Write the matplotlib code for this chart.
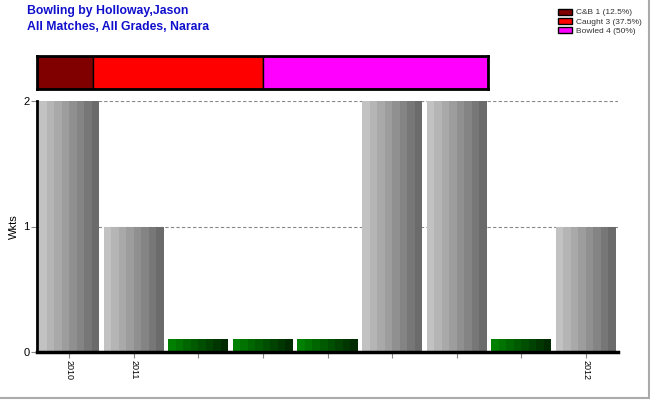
import matplotlib
matplotlib.use("Agg")
import matplotlib.pyplot as plt
import numpy as np
from matplotlib.lines import Line2D

plt.rcParams['font.family'] = ['Liberation Sans', 'DejaVu Sans']

# data
wkts = [2, 1, 0, 0, 0, 2, 2, 0, 1]
xlabels = ["2010", "2011", "", "", "", "", "", "", "2012"]
zero_height = 0.1  # placeholder height for matches with no wickets
dismissals = ["C&B", "Caught", "Bowled"]
dis_counts = [1, 3, 4]
dis_colors = ["#800000", "#ff0000", "#ff00ff"]

fig = plt.figure(figsize=(6.5, 4), dpi=100)

# main bar chart
ax = fig.add_axes([37/650, 48/400, 581/650, 251/400])
x = np.arange(len(wkts))
w = 0.93
nstripes = 8
grays = np.linspace(0.76, 0.42, nstripes)
greens = np.linspace(0.50, 0.17, nstripes)
for i, v in enumerate(wkts):
    h = v if v > 0 else zero_height
    for k in range(nstripes):
        if v > 0:
            c = (grays[k], grays[k], grays[k])
        else:
            c = (0, greens[k], 0)
        ax.bar(x[i] - w/2 + k*w/nstripes, h, width=w/nstripes, align='edge',
               color=c, linewidth=0, zorder=2)

ax.set_xlim(-0.5, len(wkts) - 0.5)
ax.set_ylim(0, 2)
ax.set_yticks([0, 1, 2])
ax.set_xticks(x)
ax.set_xticklabels(xlabels, rotation=-90, fontsize=6.5)
ax.tick_params(axis='y', labelsize=8, length=4, width=0.8, color='#888888', pad=1.5)
ax.tick_params(axis='x', length=4, width=0.8, color='#888888', pad=2)
ax.set_ylabel("Wkts", fontsize=8, labelpad=3)
for y in [1, 2]:
    ax.axhline(y, color='#888888', linestyle=(0, (3, 2)), linewidth=0.8, zorder=1)
ax.spines['top'].set_visible(False)
ax.spines['right'].set_visible(False)
ax.spines['left'].set_linewidth(2)
ax.spines['bottom'].set_linewidth(2.5)
ax.spines['left'].set_zorder(5)
ax.spines['bottom'].set_zorder(5)

# dismissal summary bar
ax2 = fig.add_axes([37/650, 311/400, 451/650, 33/400])
left = 0
handles = []
for name, n, c in zip(dismissals, dis_counts, dis_colors):
    b = ax2.barh(0, n, left=left, height=1, color=c, edgecolor='black', linewidth=1,
                 label="%s %d (%g%%)" % (name, n, 100.0*n/sum(dis_counts)))
    handles.append(b)
    left += n
ax2.set_xlim(0, sum(dis_counts))
ax2.set_ylim(-0.5, 0.5)
ax2.set_xticks([])
ax2.set_yticks([])
for s in ax2.spines.values():
    s.set_linewidth(2)

leg = fig.legend(handles=handles, loc='upper right', bbox_to_anchor=(0.997, 0.995),
                 fontsize=6, frameon=False, handlelength=1.7, handleheight=0.7,
                 labelspacing=0.15, handletextpad=0.4, borderpad=0.3)
for t in leg.get_texts():
    t.set_color('#333333')

fig.text(27/650, 1 - 11/400, "Bowling by Holloway,Jason", color='#1010cc',
         fontsize=8.8, fontweight='bold', va='center', ha='left')
fig.text(27/650, 1 - 27/400, "All Matches, All Grades, Narara", color='#1010cc',
         fontsize=8.8, fontweight='bold', va='center', ha='left')

# light frame on right and bottom
fig.add_artist(Line2D([0, 0.998], [0.004, 0.004], color='#aaaaaa', linewidth=1.5))
fig.add_artist(Line2D([0.998, 0.998], [0.004, 1], color='#aaaaaa', linewidth=1.5))

fig.savefig("out.png", dpi=100)
